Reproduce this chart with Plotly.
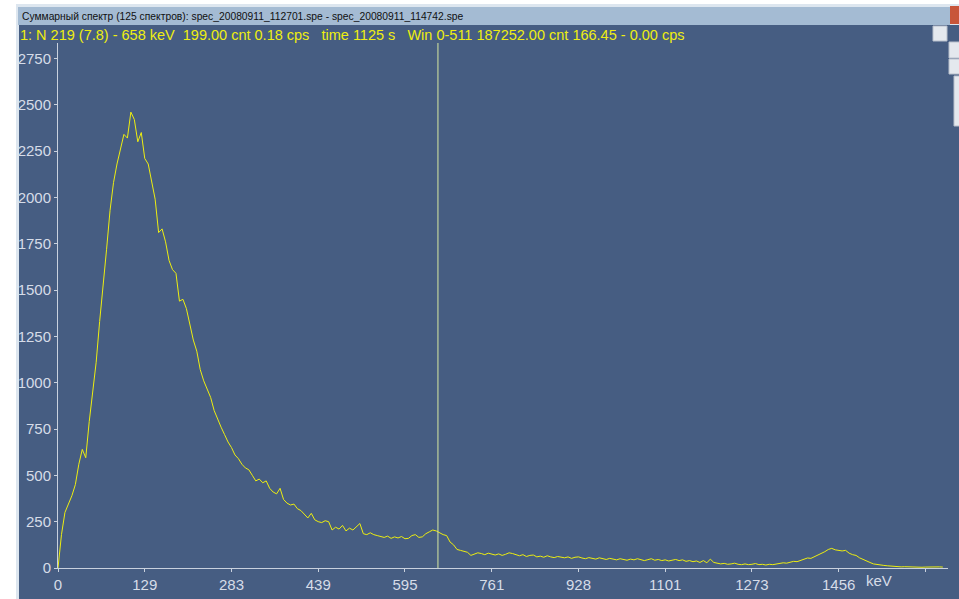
import plotly.graph_objects as go

# ---- data ----
channels = list(range(0, 512, 2))
counts = [
    0, 180, 300, 345, 390, 450, 560, 640, 595, 790,
    940, 1110, 1330, 1510, 1720, 1930, 2080, 2180, 2260, 2340,
    2320, 2460, 2420, 2300, 2350, 2210, 2180, 2080, 1990, 1810,
    1830, 1760, 1660, 1610, 1590, 1440, 1450, 1400, 1310, 1230,
    1170, 1070, 1010, 960, 920, 850, 800, 760, 720, 680,
    650, 610, 590, 560, 540, 530, 500, 470, 480, 460,
    470, 430, 410, 400, 430, 370, 350, 340, 345, 320,
    310, 290, 270, 295, 260, 250, 245, 255, 250, 205,
    220, 210, 230, 200, 215, 205, 220, 240, 185, 180,
    190, 180, 175, 170, 165, 172, 160, 168, 162, 170,
    158, 160, 175, 180, 165, 168, 185, 195, 205, 200,
    190, 180, 175, 140, 125, 100, 95, 90, 85, 68,
    75, 82, 78, 72, 80, 75, 70, 76, 68, 74,
    82, 78, 70, 66, 72, 62, 68, 70, 60, 64,
    58, 66, 60, 56, 62, 58, 55, 60, 52, 58,
    60, 54, 50, 56, 52, 48, 55, 50, 46, 52,
    48, 44, 50, 46, 42, 48, 44, 50, 46, 40,
    45, 50, 42, 46, 40, 44, 38, 42, 46, 40,
    44, 36, 40, 34, 38, 30, 40, 28, 48, 30,
    24, 22, 25, 20, 22, 26, 20, 18, 22, 18,
    20, 24, 18, 20, 16, 20, 18, 22, 24, 28,
    26, 32, 36, 34, 42, 46, 54, 52, 60, 68,
    78, 88, 100, 106, 98, 96, 92, 95, 80, 72,
    68, 55, 48, 38, 30, 22, 18, 15, 14, 12,
    10, 8, 9, 6, 7, 6, 4, 5, 6, 4,
    5, 6, 4, 5, 6, 5,
]
tick_channels = [0, 50, 100, 150, 200, 250, 300, 350, 400, 450, 500]
tick_energies = ["0", "129", "283", "439", "595", "761", "928", "1101", "1273", "1456", ""]
y_ticks = [0, 250, 500, 750, 1000, 1250, 1500, 1750, 2000, 2250, 2500, 2750]
cursor_channel = 219

title_text = "Суммарный спектр (125 спектров): spec_20080911_112701.spe - spec_20080911_114742.spe"
info_text = ("1: N 219 (7.8) - 658 keV  199.00 cnt 0.18 cps   time 1125 s   "
             "Win 0-511 187252.00 cnt 166.45 - 0.00 cps")

W, H = 959, 599
PANEL = "#465d82"
AX = "#c9d1de"
YEL = "#eeee10"
LBL = "#d6dce8"


def px(x):
    return x / W


def py(y):
    return 1 - y / H


fig = go.Figure()
fig.add_trace(go.Scatter(x=channels, y=counts, mode="lines",
                         line=dict(color=YEL, width=1), hoverinfo="skip",
                         showlegend=False))

btn = dict(fillcolor="#e4e8ee", line=dict(color="#b8c0cc", width=1), layer="above")
shapes = [
    # light frame of the window
    dict(type="rect", xref="paper", yref="paper", x0=px(16), x1=1, y0=0, y1=py(4),
         fillcolor="#dde6ef", line_width=0, layer="below"),
    # title bar
    dict(type="rect", xref="paper", yref="paper", x0=px(18), x1=px(950), y0=py(25), y1=py(7),
         fillcolor="#a4bbd3", line_width=0, layer="below"),
    # dark panel
    dict(type="rect", xref="paper", yref="paper", x0=px(19), x1=1, y0=0, y1=py(25),
         fillcolor=PANEL, line_width=0, layer="below"),
    # right-side buttons
    dict(type="rect", xref="paper", yref="paper", x0=px(933), x1=px(947), y0=py(41), y1=py(26), **btn),
    dict(type="rect", xref="paper", yref="paper", x0=px(949), x1=px(960), y0=py(58), y1=py(42), **btn),
    dict(type="rect", xref="paper", yref="paper", x0=px(949), x1=px(960), y0=py(74), y1=py(59), **btn),
    dict(type="rect", xref="paper", yref="paper", x0=px(954), x1=px(960), y0=py(126), y1=py(76), **btn),
    dict(type="rect", xref="paper", yref="paper", x0=px(950), x1=px(960), y0=py(24), y1=py(6),
         fillcolor="#c8553a", line_width=0, layer="above"),
    # cursor line
    dict(type="line", xref="x", yref="paper", x0=cursor_channel, x1=cursor_channel,
         y0=py(568), y1=py(43), line=dict(color="#d8e8a0", width=1)),
]

annotations = [
    dict(text=title_text, xref="paper", yref="paper", x=px(21), y=py(16),
         xanchor="left", yanchor="middle", showarrow=False, borderpad=0,
         font=dict(family="Liberation Sans, Arial", size=10.3, color="#101010")),
    dict(text=info_text, xref="paper", yref="paper", x=px(19), y=py(35),
         xanchor="left", yanchor="middle", showarrow=False, borderpad=0,
         font=dict(family="Liberation Sans, Arial", size=14.5, color=YEL)),
    dict(text="keV", xref="paper", yref="paper", x=px(865), y=py(580),
         xanchor="left", yanchor="middle", showarrow=False, borderpad=0,
         font=dict(family="Liberation Sans, Arial", size=15, color=LBL)),
]

fig.update_layout(
    width=W, height=H,
    margin=dict(l=0, r=0, t=0, b=0, pad=0, autoexpand=False),
    paper_bgcolor="white",
    plot_bgcolor=PANEL,
    shapes=shapes,
    annotations=annotations,
    font=dict(family="Liberation Sans, Arial", size=15, color=LBL),
    xaxis=dict(domain=[px(58), px(948)], range=[0, 513],
               tickmode="array", tickvals=tick_channels, ticktext=tick_energies,
               showgrid=False, zeroline=False, showline=True, linecolor=AX, linewidth=1,
               ticks="outside", ticklen=3, tickcolor=AX, automargin=False,
               tickfont=dict(size=15, color=LBL)),
    yaxis=dict(domain=[py(568), py(43)], range=[0, 2833],
               tickmode="array", tickvals=y_ticks,
               showgrid=False, zeroline=False, showline=True, linecolor=AX, linewidth=1,
               ticks="outside", ticklen=3, tickcolor=AX, automargin=False,
               tickfont=dict(size=15, color=LBL)),
)

fig.write_html("out.html")
